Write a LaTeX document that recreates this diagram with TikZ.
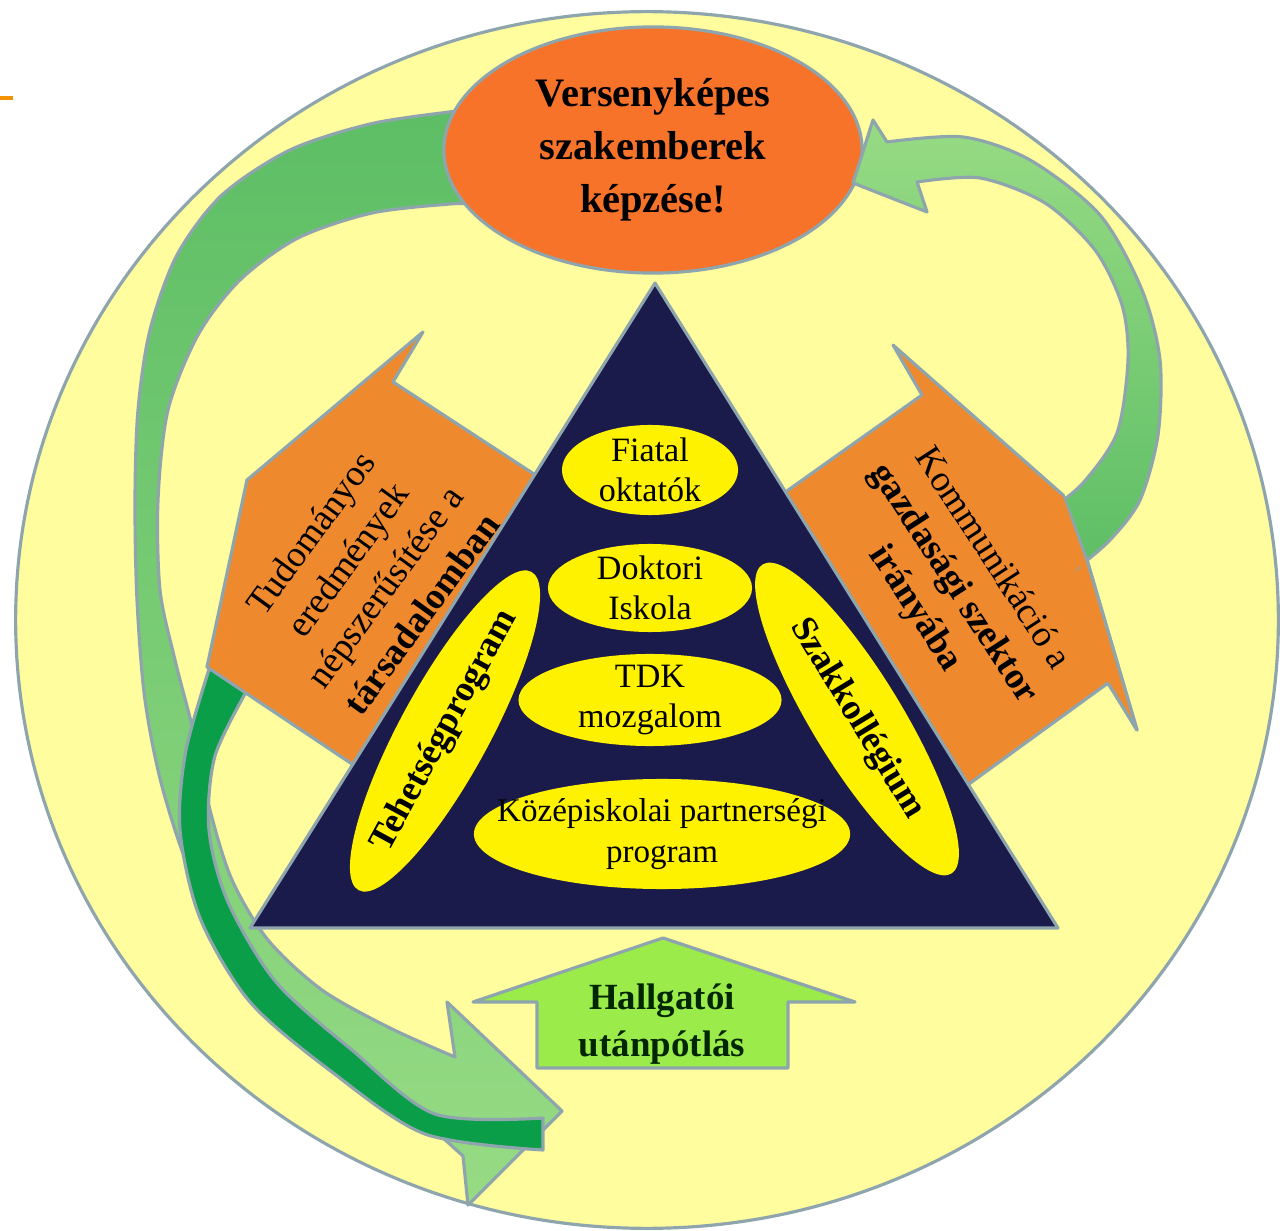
\documentclass[tikz,border=0pt]{standalone}
\usepackage{fontspec}
\setmainfont{Liberation Serif}
\usepackage{tikz}
\usetikzlibrary{shapes.geometric, positioning}

\definecolor{circyellow}{HTML}{FFFD9E}
\definecolor{edgegray}{HTML}{8EA5AE}
\definecolor{toporange}{HTML}{F8732A}
\definecolor{calloutorange}{HTML}{EE8A2D}
\definecolor{navy}{HTML}{1B1B4B}
\definecolor{medgreen}{HTML}{5DBE65}
\definecolor{lightgreen}{HTML}{97DB84}
\definecolor{darkgreen}{HTML}{0B9E48}
\definecolor{upgreen}{HTML}{9BEB4B}
\definecolor{dashorange}{HTML}{F39200}

\begin{document}
\begin{tikzpicture}[
    x=0.01cm, y=-0.01cm,
    rim/.style={draw=edgegray, line width=0.9pt, line join=round},
    goal/.style={ellipse, rim, fill=toporange, minimum width=4.18cm, minimum height=2.46cm, align=center, font=\fontsize{11.5}{15}\selectfont\bfseries},
    level/.style={ellipse, fill=yellow, inner sep=0pt},
    level_text/.style={align=center, font=\fontsize{9.7}{11.4}\selectfont},
    side_level/.style={ellipse, fill=yellow, inner sep=0pt, minimum width=3.62cm, minimum height=0.9cm},
    side_text/.style={font=\fontsize{10.3}{12}\selectfont\bfseries},
    callout/.style={rim, fill=calloutorange},
    callout_text/.style={align=center, font=\fontsize{10.5}{13}\selectfont}
]
    \useasboundingbox (0,0) rectangle (1282,1231);

    % Background circle
    \node (bigcircle) [ellipse, rim, fill=circyellow, minimum width=12.62cm, minimum height=12.16cm] at (647,620) {};
    \draw [dashorange, line width=1.2pt] (0,98) -- (13,98);

    % Left green arrow (from the goal down to the bottom)
    \path [rim, top color=medgreen, middle color=medgreen!55!lightgreen, bottom color=lightgreen]
        plot [smooth] coordinates {(470,110) (449,112) (370,124) (290,150) (222,195) (177,255) (150,330) (138,410) (135,500) (137,600) (145,700) (163,790) (196,885) (250,965) (325,1040) (400,1100) (463,1156)}
        -- (468,1205) -- (562,1111) -- (447,1002) -- (455,1057)
        -- plot [smooth] coordinates {(455,1057) (390,1028) (322,990) (268,940) (232,880) (210,810) (193,730) (175,660) (160,590) (158,500) (168,410) (198,335) (240,280) (298,238) (372,213) (450,204) (470,204)}
        -- cycle;
    \path [rim, fill=darkgreen]
        plot [smooth] coordinates {(212,660) (186,750) (180,830) (200,918) (250,1002) (332,1072) (425,1134) (543,1150)}
        -- plot [smooth] coordinates {(543,1118) (435,1114) (352,1050) (276,982) (228,902) (209,830) (215,756) (250,685)}
        -- cycle;

    % Side callouts
    \draw [callout] (207,667) -- (247,480) -- (423,332) -- (393,382) -- (540,478) -- (358,768) -- cycle;
    \draw [callout] (770,503) -- (922,395) -- (893,345) -- (1063,495) -- (1087,560) -- (1137,730) -- (1108,683) -- (962,789) -- cycle;
    \node (tudomany) [callout_text, rotate=54] at (366,573) {Tudományos\\eredmények\\népszerűsítése a\\\textbf{társadalomban}};
    \node (kommunik) [callout_text, rotate=-57] at (953,584) {Kommunikáció a\\\textbf{gazdasági szektor}\\\textbf{irányába}};

    % Pyramid
    \coordinate (apex) at (655,283);
    \coordinate (base_left) at (250,928);
    \coordinate (base_right) at (1058,928);
    \draw [rim, fill=navy] (apex) -- (base_left) -- (base_right) -- cycle;

    % Levels inside the pyramid
    \node (fiatal) [level, minimum width=1.76cm, minimum height=0.9cm] at (650,470) {};
    \node (doktori) [level, minimum width=2.04cm, minimum height=0.88cm] at (650,588) {};
    \node (tdk) [level, minimum width=2.63cm, minimum height=0.92cm] at (650,700) {};
    \node (kozep) [level, minimum width=3.76cm, minimum height=1.1cm] at (662,834) {};
    \node (tehetseg) [side_level, rotate=61.5] at (445,731) {};
    \node (szakkoll) [side_level, rotate=-58.6] at (857,719) {};
    \node [level_text] at (fiatal) {Fiatal\\oktatók};
    \node [level_text] at (doktori) {Doktori\\Iskola};
    \node [level_text] at (tdk) {TDK\\mozgalom};
    \node [level_text, font=\fontsize{9.4}{11.8}\selectfont] at (kozep) {Középiskolai partnerségi\\program};
    \node [side_text, rotate=61.5] at (tehetseg) {Tehetségprogram};
    \node [side_text, rotate=-58.6] at (szakkoll) {Szakkollégium};

    % Goal
    \node (versenykepes) [goal] at (653,150) {Versenyképes\\szakemberek\\képzése!};

    % Right green arrow (back to the goal)
    \path [rim, top color=lightgreen, bottom color=medgreen]
        plot [smooth] coordinates {(1075,570) (1110,540) (1140,500) (1158,435) (1160,360) (1142,290) (1100,215) (1030,160) (963,137) (887,142)}
        -- (873,120) -- (853,183) -- (927,212) -- (917,182)
        -- plot [smooth] coordinates {(917,182) (980,178) (1045,203) (1095,250) (1122,305) (1128,360) (1117,433) (1083,483) (1050,510)}
        -- cycle;
    \draw [callout] (1063,495) -- (1087,560) -- (1137,730) -- (1108,683);
    \fill [calloutorange] (1040,480) -- (1063,497) -- (1085,560) -- (1050,600) -- cycle;

    % Student supply arrow
    \draw [rim, fill=upgreen] (663,938) -- (855,1002) -- (788,1002) -- (788,1068) -- (537,1068) -- (537,1002) -- (473,1002) -- cycle;
    \node (hallgatoi) [align=center, font=\fontsize{10.5}{13.4}\selectfont\bfseries, text=black!85!green] at (662,1024) {Hallgatói\\utánpótlás};
\end{tikzpicture}
\end{document}
